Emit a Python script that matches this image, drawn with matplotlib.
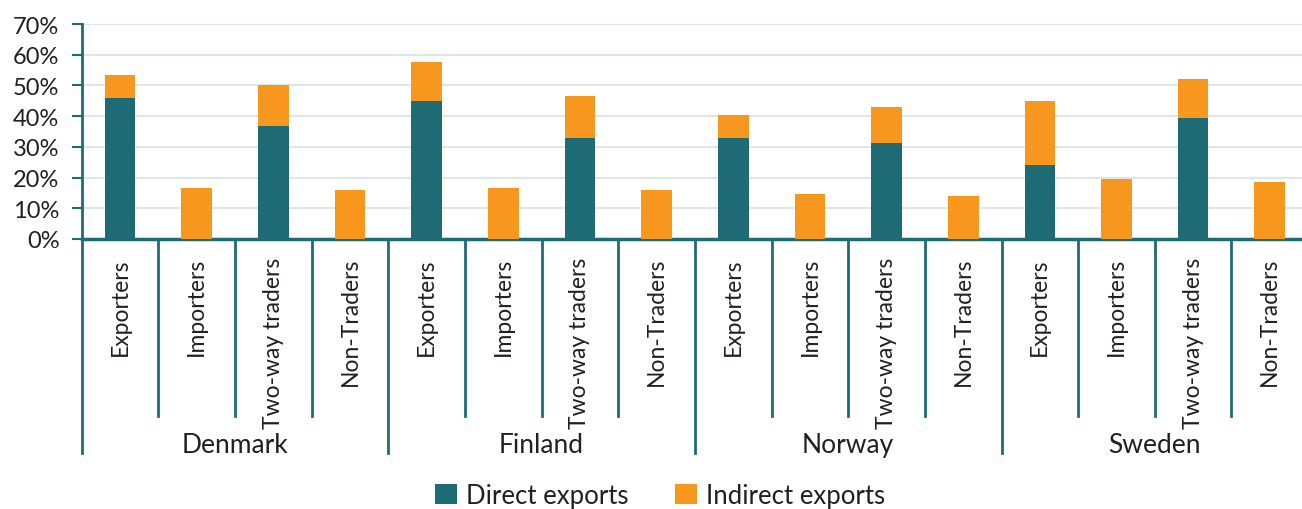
import matplotlib.pyplot as plt
import numpy as np

plt.rcParams['font.family'] = ['Lato', 'DejaVu Sans']

countries = ['Denmark', 'Finland', 'Norway', 'Sweden']
firm_types = ['Exporters', 'Importers', 'Two-way traders', 'Non-Traders']

# share of firms, percent (one value per country x firm type)
direct = [46, 0, 36.7, 0,
          45, 0, 33, 0,
          33, 0, 31.1, 0,
          24, 0, 39.4, 0]
indirect = [7.3, 16.7, 13.6, 15.8,
            12.6, 16.7, 13.7, 15.8,
            7.3, 14.8, 11.9, 13.9,
            20.9, 19.4, 12.8, 18.5]

teal = '#1f6b75'
orange = '#f7971e'
txt = '#231f20'

fig = plt.figure(figsize=(13.02, 5.10), dpi=100)
ax = fig.add_axes([81.7 / 1302, 270 / 510, (1302 - 81.7) / 1302, 215 / 510])

x = np.arange(len(direct))
ax.bar(x, direct, width=0.4, color=teal, label='Direct exports', zorder=3)
ax.bar(x, indirect, width=0.4, bottom=direct, color=orange,
       label='Indirect exports', zorder=3)

ax.set_ylim(0, 70)
ax.set_xlim(-0.5, 15.42)
ax.set_yticks(np.arange(0, 71, 10))
ax.set_yticklabels([f'{v}%' for v in range(0, 71, 10)], fontsize=17, color=txt)
ax.yaxis.grid(True, color='#dce8e6', lw=1.5, zorder=0)
ax.set_xticks([])
ax.tick_params(axis='y', direction='out', length=7, width=1.5, color=teal, pad=9)

for s in ['top', 'right']:
    ax.spines[s].set_visible(False)
ax.spines['left'].set_color(teal)
ax.spines['left'].set_linewidth(2)
ax.spines['bottom'].set_color(teal)
ax.spines['bottom'].set_linewidth(2.5)

# category separators below the axis
tr = ax.get_xaxis_transform()
for b in np.arange(-0.5, 15.5, 1):
    low = -0.995 if (b + 0.5) % 4 == 0 else -0.823
    ax.plot([b, b], [0, low], transform=tr, color=teal, lw=2,
            clip_on=False, zorder=4)

for i in x:
    ax.text(i, -0.084, firm_types[i % 4], transform=tr, rotation=90,
            ha='center', va='top', fontsize=16.5, color=txt)

for g, c in enumerate(countries):
    ax.text(4 * g + 1.5, -0.958, c, transform=tr, ha='center', va='center',
            fontsize=19, color=txt)

fig.legend(loc='center', bbox_to_anchor=(0.507, 0.027), ncol=2, frameon=False,
           fontsize=18.5, handlelength=0.85, handleheight=0.85, handletextpad=0.35,
           columnspacing=1.8, labelcolor=txt)

fig.savefig('out.png', dpi=100)
